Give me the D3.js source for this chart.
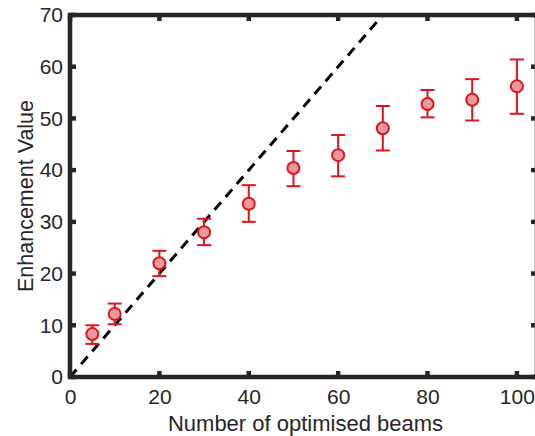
<!DOCTYPE html>
<html><head><meta charset="utf-8">
<script src="https://cdn.jsdelivr.net/npm/d3@7"></script>
<style>body{margin:0;background:#fff;}svg{display:block;}</style>
</head><body>
<script>
const beams = [5, 10, 20, 30, 40, 50, 60, 70, 80, 90, 100];
const enhancement = [8.3, 12.2, 22.0, 28.0, 33.5, 40.4, 42.9, 48.1, 52.8, 53.6, 56.2];
const errLow = [6.4, 10.2, 19.5, 25.5, 30.0, 36.9, 38.8, 43.8, 50.2, 49.6, 50.9];
const errHigh = [10.0, 14.2, 24.4, 30.6, 37.1, 43.7, 46.8, 52.4, 55.5, 57.6, 61.4];
const xTicks = [0, 20, 40, 60, 80, 100];
const yTicks = [0, 10, 20, 30, 40, 50, 60, 70];
const xLabel = "Number of optimised beams";
const yLabel = "Enhancement Value";
const idealLine = [[0, 0], [70, 70]];

const W = 535, H = 436;
const m = {left: 70, top: 15, right: 537, bottom: 377};
const svg = d3.select("body").append("svg").attr("width", W).attr("height", H);
const x = d3.scaleLinear().domain([0, 104.5]).range([m.left, m.right]);
const y = d3.scaleLinear().domain([0, 70]).range([m.bottom, m.top]);
const axisColor = "#262626";
const font = "'Liberation Sans', Arial, Helvetica, sans-serif";

// dashed ideal line
svg.append("path")
  .attr("d", d3.line().x(d => x(d[0])).y(d => y(d[1]))(idealLine))
  .attr("stroke", "#000").attr("stroke-width", 3).attr("stroke-dasharray", "10,7").attr("fill", "none");

// error bars
const red = "#e0141c";
const g = svg.append("g");
beams.forEach((b, i) => {
  g.append("line").attr("x1", x(b)).attr("x2", x(b)).attr("y1", y(errLow[i])).attr("y2", y(errHigh[i]))
    .attr("stroke", red).attr("stroke-width", 2);
  [errLow[i], errHigh[i]].forEach(v => {
    g.append("line").attr("x1", x(b) - 7).attr("x2", x(b) + 7).attr("y1", y(v)).attr("y2", y(v))
      .attr("stroke", red).attr("stroke-width", 2);
  });
});
g.selectAll("circle").data(beams).enter().append("circle")
  .attr("cx", d => x(d)).attr("cy", (d, i) => y(enhancement[i])).attr("r", 6)
  .attr("fill", "#e8999c").attr("stroke", red).attr("stroke-width", 2);

// axes
const xAxisB = d3.axisBottom(x).tickValues(xTicks).tickSize(0).tickPadding(12);
const yAxisL = d3.axisLeft(y).tickValues(yTicks).tickSize(0).tickPadding(7);
const gx = svg.append("g").attr("transform", `translate(0,${m.bottom})`).call(xAxisB);
const gy = svg.append("g").attr("transform", `translate(${m.left},0)`).call(yAxisL);
[gx, gy].forEach(a => {
  a.select(".domain").remove();
  a.selectAll("text").attr("font-family", font).attr("font-size", 21).attr("fill", axisColor);
});

// box
const lw = 4.5;
svg.append("rect").attr("x", m.left).attr("y", m.top).attr("width", m.right - m.left).attr("height", m.bottom - m.top)
  .attr("fill", "none").attr("stroke", axisColor).attr("stroke-width", lw);

// inward ticks
const tl = 6;
xTicks.forEach(t => {
  svg.append("line").attr("x1", x(t)).attr("x2", x(t)).attr("y1", m.bottom).attr("y2", m.bottom - tl).attr("stroke", axisColor).attr("stroke-width", lw);
  svg.append("line").attr("x1", x(t)).attr("x2", x(t)).attr("y1", m.top).attr("y2", m.top + tl).attr("stroke", axisColor).attr("stroke-width", lw);
});
yTicks.forEach(t => {
  svg.append("line").attr("x1", m.left).attr("x2", m.left + tl).attr("y1", y(t)).attr("y2", y(t)).attr("stroke", axisColor).attr("stroke-width", lw);
  svg.append("line").attr("x1", m.right).attr("x2", m.right - tl).attr("y1", y(t)).attr("y2", y(t)).attr("stroke", axisColor).attr("stroke-width", lw);
});

// labels
svg.append("text").attr("x", (168 + 443) / 2).attr("y", 431).attr("text-anchor", "middle")
  .attr("font-family", font).attr("font-size", 22).attr("fill", axisColor).text(xLabel);
svg.append("text").attr("transform", `translate(33,${(m.top + m.bottom) / 2}) rotate(-90)`).attr("text-anchor", "middle")
  .attr("font-family", font).attr("font-size", 21.5).attr("fill", axisColor).text(yLabel);
</script>
</body></html>
